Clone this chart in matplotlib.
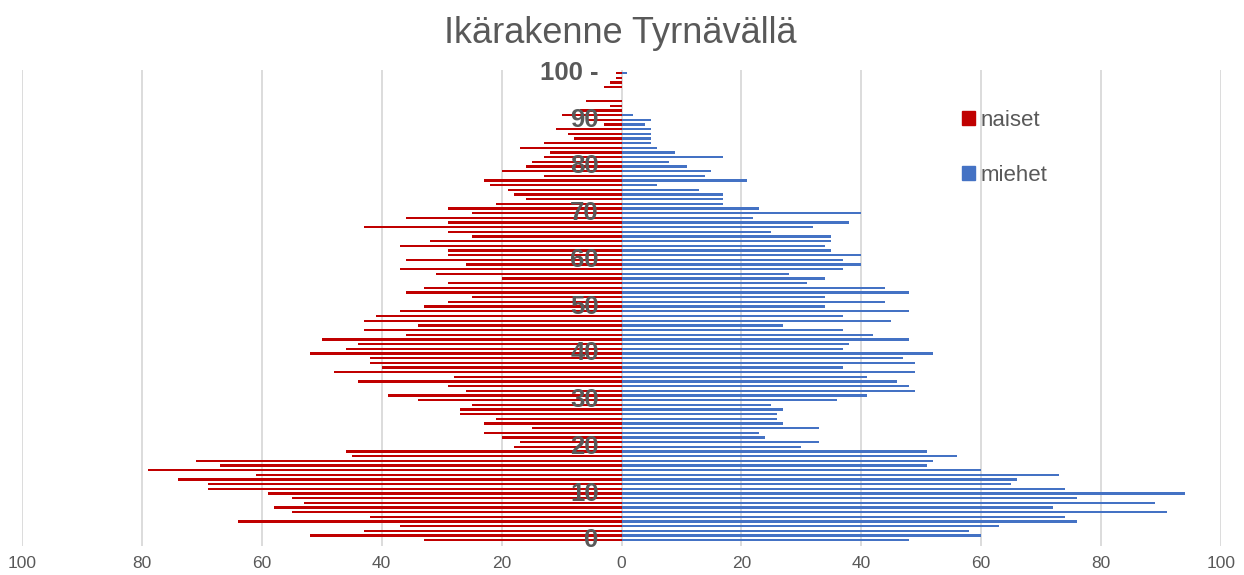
import numpy as np
import matplotlib.pyplot as plt
from matplotlib.patches import Patch

plt.rcParams['font.family'] = ['Liberation Sans', 'DejaVu Sans']

# Ages 0..100 (100 = "100 -")
ages = np.arange(0, 101)

# Women per age
naiset = [33, 52, 43, 37, 64, 42, 55, 58, 53, 55,
          59, 69, 69, 74, 61, 79, 67, 71, 45, 46,
          18, 17, 20, 23, 15, 23, 21, 27, 27, 25,
          34, 39, 26, 29, 44, 28, 48, 40, 42, 42,
          52, 46, 44, 50, 36, 43, 34, 43, 41, 37,
          33, 29, 25, 36, 33, 29, 20, 31, 37, 26,
          36, 29, 29, 37, 32, 25, 29, 43, 29, 36,
          25, 29, 21, 16, 18, 19, 22, 23, 13, 20,
          16, 15, 13, 12, 17, 13, 8, 9, 11, 3,
          6, 10, 7, 2, 6, 0, 0, 3, 2, 1,
          1]

# Men per age
miehet = [48, 60, 58, 63, 76, 74, 91, 72, 89, 76,
          94, 74, 65, 66, 73, 60, 51, 52, 56, 51,
          30, 33, 24, 23, 33, 27, 26, 26, 27, 25,
          36, 41, 49, 48, 46, 41, 49, 37, 49, 47,
          52, 37, 38, 48, 42, 37, 27, 45, 37, 48,
          34, 44, 34, 48, 44, 31, 34, 28, 37, 40,
          37, 40, 35, 34, 35, 35, 25, 32, 38, 22,
          40, 23, 17, 17, 17, 13, 6, 21, 14, 15,
          11, 8, 17, 9, 6, 5, 5, 5, 5, 4,
          5, 2, 0, 0, 0, 0, 0, 0, 0, 0,
          1]

age_ticks = [0, 10, 20, 30, 40, 50, 60, 70, 80, 90, 100]
age_labels = ['0', '10', '20', '30', '40', '50', '60', '70', '80', '90', '100 -']
x_ticks = [-100, -80, -60, -40, -20, 0, 20, 40, 60, 80, 100]
x_labels = [str(abs(v)) for v in x_ticks]

red = '#C00000'
blue = '#4472C4'
grey_txt = '#595959'
grid_col = '#D9D9D9'

fig = plt.figure(figsize=(12.44, 5.75), dpi=100)
ax = fig.add_axes([0.0177, 0.0506, 0.9638, 0.8273])

ax.barh(ages, -np.array(naiset), height=0.5, color=red, zorder=2)
ax.barh(ages, miehet, height=0.5, color=blue, zorder=2)

ax.set_xlim(-100, 100)
ax.set_ylim(-1.2, 100.6)

for xv in x_ticks:
    ax.axvline(xv, color=grid_col, lw=1.3, zorder=0)

ax.set_xticks(x_ticks)
ax.set_xticklabels(x_labels, fontsize=12.5, color=grey_txt)
ax.tick_params(axis='x', length=0, pad=7.5)
ax.set_yticks([])
for s in ax.spines.values():
    s.set_visible(False)

# age labels sit just left of the centre axis
for a, lab in zip(age_ticks, age_labels):
    ax.text(-3.8, a, lab, ha='right', va='center', fontsize=18.5,
            fontweight='bold', color=grey_txt, zorder=3)

fig.text(0.4984, 0.942, 'Ikärakenne Tyrnävällä', ha='center', va='center',
         fontsize=26, color=grey_txt)

handles = [Patch(color=red, label='naiset'), Patch(color=blue, label='miehet')]
fig.legend(handles=handles, loc='center left', bbox_to_anchor=(0.773, 0.743),
           frameon=False, fontsize=16, labelspacing=1.55, handlelength=0.6,
           handleheight=0.6, handletextpad=0.25, borderpad=0, borderaxespad=0,
           labelcolor=grey_txt)

fig.savefig('out.png', dpi=100)
